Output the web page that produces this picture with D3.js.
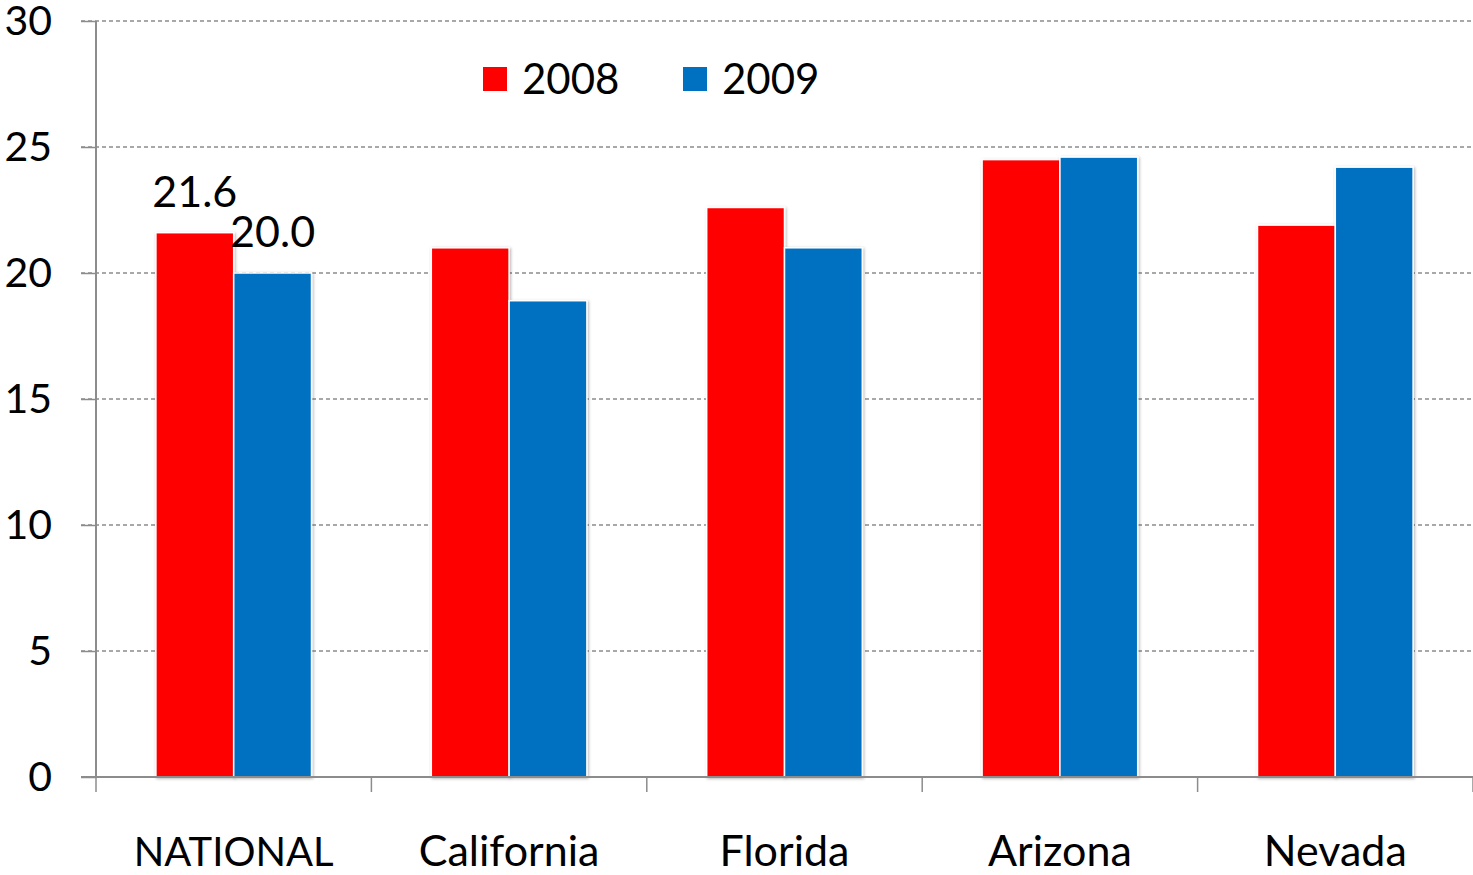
<html>
<head>
    <script src="https://d3js.org/d3.v7.min.js"></script>
    <style>
        body { margin: 0; background: #fff; }
        text { font-family: Lato, "Open Sans", sans-serif; fill: #000; }
    </style>
</head>
<body>
    <svg id="svg" width="1473" height="875"></svg>
    <script>
        const categories = ["NATIONAL", "California", "Florida", "Arizona", "Nevada"]
        const years = ["2008", "2009"]
        const values2008 = [21.6, 21.0, 22.6, 24.5, 21.9]
        const values2009 = [20.0, 18.9, 21.0, 24.6, 24.2]
        const yTicks = [0, 5, 10, 15, 20, 25, 30]
        const colors = ["#ff0000", "#0070c0"]

        const rows = categories.map((c, i) => ({ cat: c, vals: [values2008[i], values2009[i]] }))

        const svg = d3.select('#svg');
        const margin = { top: 21, right: 0, bottom: 98, left: 96 };
        const chartWidth = 1473 - margin.left - margin.right;
        const chartHeight = 875 - margin.top - margin.bottom;

        const defs = svg.append("defs")
        const f = defs.append("filter").attr("id", "shadow")
            .attr("x", "-10%").attr("y", "-10%").attr("width", "130%").attr("height", "130%")
        f.append("feDropShadow").attr("dx", 1).attr("dy", 1).attr("stdDeviation", 1.5)
            .attr("flood-color", "#000").attr("flood-opacity", 0.3)

        const g = svg.append("g").attr("transform", `translate(${margin.left},${margin.top})`);

        const xScale = d3.scaleBand().domain(categories).range([0, chartWidth]).paddingInner(0).paddingOuter(0)
        const xInner = d3.scaleBand().domain(years).range([0, xScale.bandwidth() * 0.565])
        const yScale = d3.scaleLinear().domain([0, 30]).range([chartHeight, 0])

        // gridlines
        g.selectAll("line.grid").data(yTicks.filter(t => t > 0))
            .join("line")
            .attr("class", "grid")
            .attr("x1", -15).attr("x2", chartWidth)
            .attr("y1", d => yScale(d)).attr("y2", d => yScale(d))
            .style("stroke", "#8c8c8c").style("stroke-width", 1.3)
            .style("stroke-dasharray", "4,3");

        // y axis
        const yAxis = g.append("g").call(d3.axisLeft(yScale).tickValues(yTicks).tickSize(15).tickPadding(28))
        yAxis.select(".domain").style("stroke", "#8c8c8c").style("stroke-width", 2).attr("d", `M0,0V${chartHeight}`)
        yAxis.selectAll(".tick line").style("stroke", "#8c8c8c").style("stroke-width", 1.5)
        yAxis.selectAll(".tick text").style("font-size", "41px").style("font-family", "Lato, sans-serif")
            .attr("x", -44).style("text-anchor", "end").attr("dy", "0.34em")

        // bars
        const groups = g.selectAll("g.cat").data(rows).join("g")
            .attr("class", "cat")
            .attr("transform", d => `translate(${xScale(d.cat) + (xScale.bandwidth() - xInner.range()[1]) / 2},0)`)
        groups.selectAll("rect").data(d => d.vals.map((v, i) => ({ year: years[i], v: v, i: i })))
            .join("rect")
            .attr("x", d => xInner(d.year))
            .attr("y", d => yScale(d.v))
            .attr("width", xInner.bandwidth())
            .attr("height", d => chartHeight - yScale(d.v))
            .style("fill", d => colors[d.i])
            .style("stroke", "#fff").style("stroke-width", 1.5)
            .attr("filter", "url(#shadow)");

        // x axis
        const xAxisG = g.append("g").attr("transform", `translate(0,${chartHeight})`)
        xAxisG.append("line").attr("x1", -15).attr("x2", chartWidth)
            .style("stroke", "#8c8c8c").style("stroke-width", 2)
        xAxisG.selectAll("line.xt").data(categories.concat(["end"]))
            .join("line")
            .attr("class", "xt")
            .attr("x1", (d, i) => i * xScale.step()).attr("x2", (d, i) => i * xScale.step())
            .attr("y1", 0).attr("y2", 15)
            .style("stroke", "#8c8c8c").style("stroke-width", 1.5)
        xAxisG.selectAll("text").data(categories)
            .join("text")
            .attr("x", d => xScale(d) + xScale.bandwidth() / 2)
            .attr("y", 89)
            .style("text-anchor", "middle")
            .style("font-size", d => d === "NATIONAL" ? "40px" : "43px")
            .text(d => d);

        // data labels on first group only
        const first = rows[0]
        const off0 = (xScale.bandwidth() - xInner.range()[1]) / 2
        g.selectAll("text.lbl").data(first.vals)
            .join("text")
            .attr("class", "lbl")
            .attr("x", (v, i) => off0 + xInner(years[i]) + xInner.bandwidth() / 2)
            .attr("y", v => yScale(v) - 26)
            .style("text-anchor", "middle")
            .style("font-size", "43px")
            .text(v => v.toFixed(1));

        // legend
        const legend = svg.append("g").attr("transform", "translate(483,67)")
        const items = legend.selectAll("g").data(years).join("g")
            .attr("transform", (d, i) => `translate(${i * 200},0)`)
        items.append("rect").attr("width", 24).attr("height", 24)
            .style("fill", (d, i) => colors[i])
        items.append("text").attr("x", 39).attr("y", 27)
            .style("font-size", "42px")
            .text(d => d)
    </script>
</body>
</html>
